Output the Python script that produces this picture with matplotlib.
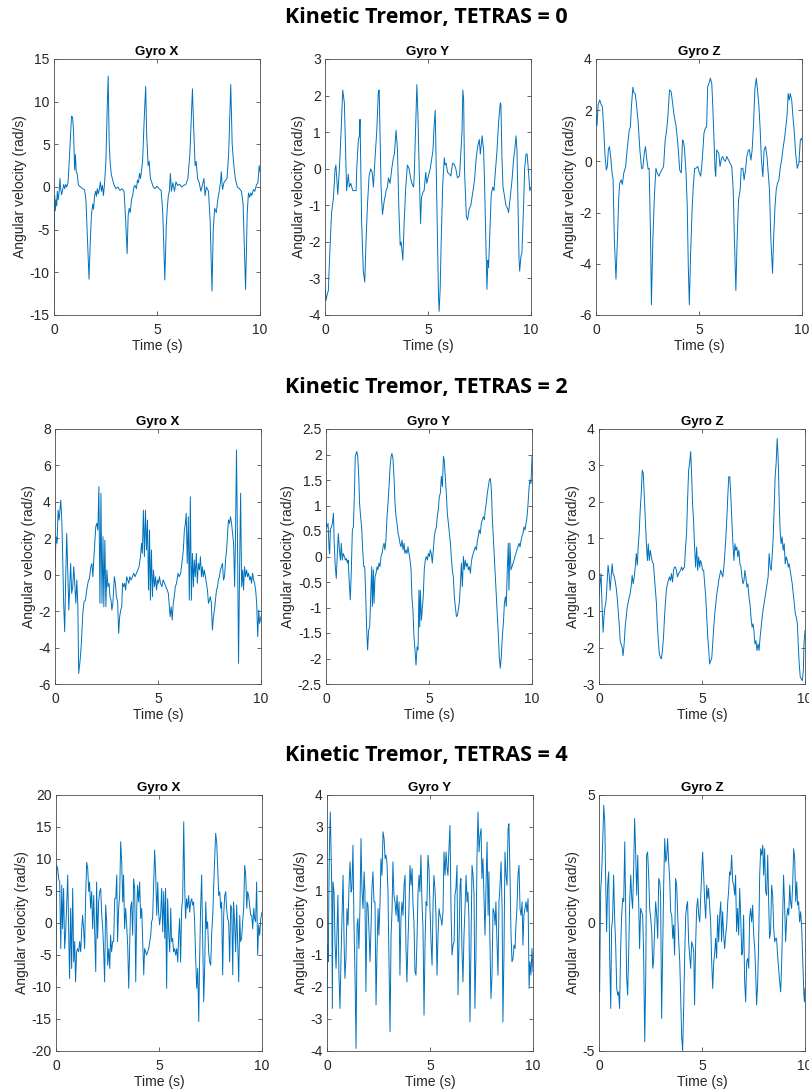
import matplotlib
matplotlib.use("Agg")
import matplotlib.pyplot as plt
from matplotlib.ticker import FuncFormatter

# Gyroscope traces: (time in s, angular velocity in rad/s)

# TETRAS = 0
t0_gyro_x = [(0.00, -14.6), (0.03, -1.0), (0.06, -2.8), (0.10, -1.5), (0.13, -2.2), (0.16, -0.5), (0.20, -1.5),
             (0.24, -0.8), (0.29, 1.0), (0.32, -0.2), (0.37, -0.9), (0.42, -0.3), (0.47, 0.3), (0.52, -0.2),
             (0.57, 0.3), (0.62, 0.0), (0.68, 0.5), (0.74, 3.0), (0.80, 6.0), (0.85, 8.3), (0.90, 8.2),
             (0.95, 6.5), (1.00, 2.0), (1.04, 3.8), (1.08, 1.8), (1.13, 1.5), (1.18, 0.3), (1.23, 0.1),
             (1.30, 0.0), (1.38, -0.2), (1.48, -0.3), (1.55, -1.5), (1.62, -6.0), (1.70, -10.8), (1.76, -6.5),
             (1.82, -3.2), (1.88, -2.0), (1.92, -2.6), (1.97, -1.0), (2.02, -0.5), (2.06, -1.1), (2.10, -0.2),
             (2.15, -0.8), (2.20, -0.3), (2.25, 0.6), (2.30, -0.5), (2.35, 0.2), (2.40, -1.0), (2.45, 0.3),
             (2.52, 3.0), (2.58, 9.0), (2.63, 13.0), (2.68, 5.0), (2.73, 2.8), (2.78, 1.5), (2.85, 0.8),
             (2.92, 0.2), (3.00, -0.2), (3.10, 0.0), (3.20, -0.4), (3.30, -0.2), (3.40, -0.5), (3.47, -3.5),
             (3.55, -7.8), (3.60, -3.3), (3.65, -2.5), (3.70, -3.0), (3.76, -1.5), (3.82, -1.0), (3.88, 0.0),
             (3.93, 0.2), (4.00, -0.2), (4.05, 0.8), (4.10, 0.5), (4.15, 1.6), (4.20, 1.0), (4.30, 3.0),
             (4.38, 8.0), (4.45, 11.8), (4.50, 6.0), (4.57, 2.5), (4.62, 3.0), (4.68, 1.0), (4.75, 0.5),
             (4.82, 0.0), (4.90, -0.2), (5.00, 0.1), (5.10, -0.2), (5.20, -0.4), (5.28, -3.0), (5.38, -10.9),
             (5.45, -4.5), (5.50, -2.5), (5.55, -1.0), (5.60, -0.5), (5.65, 1.6), (5.70, -0.5), (5.77, 0.5),
             (5.85, -0.5), (5.92, 0.6), (6.00, 0.2), (6.10, 0.3), (6.20, 0.0), (6.30, 0.2), (6.40, 0.3),
             (6.50, 1.0), (6.60, 4.0), (6.72, 11.5), (6.78, 7.0), (6.85, 2.5), (6.90, 3.0), (6.97, 1.0),
             (7.05, 0.5), (7.13, -0.5), (7.20, 0.2), (7.28, 1.0), (7.33, -1.0), (7.40, 0.0), (7.50, -0.5),
             (7.58, -4.0), (7.67, -12.2), (7.73, -5.0), (7.80, -2.5), (7.88, -3.0), (7.95, -1.5), (8.02, -0.5),
             (8.08, 0.5), (8.12, 1.8), (8.18, -0.3), (8.25, 0.5), (8.33, 0.8), (8.40, 1.0), (8.48, 4.0),
             (8.58, 12.0), (8.65, 5.0), (8.72, 2.8), (8.80, 1.0), (8.90, 0.0), (9.00, -0.2), (9.10, -0.5),
             (9.18, -2.0), (9.30, -12.0), (9.38, -3.0), (9.44, -0.7), (9.50, -1.2), (9.55, -0.7), (9.60, -1.0),
             (9.68, -0.3), (9.75, -0.5), (9.82, 0.2), (9.90, 0.5), (9.96, 2.5), (10.00, 1.8)]

t0_gyro_y = [(0.00, -3.2), (0.05, -3.6), (0.12, -3.4), (0.16, -3.35), (0.24, -2.2), (0.32, -1.2), (0.41, -0.8),
             (0.49, 0.0), (0.53, 0.1), (0.62, -0.7), (0.70, 0.0), (0.78, 1.0), (0.86, 2.15), (0.94, 1.8),
             (1.05, -0.6), (1.13, -0.15), (1.18, -0.5), (1.25, -0.4), (1.35, -0.6), (1.51, -0.6), (1.54, 0.0),
             (1.62, 0.8), (1.67, 0.9), (1.70, 1.35), (1.78, -1.5), (1.86, -2.8), (1.93, -3.1), (1.99, -2.0),
             (2.06, -1.0), (2.14, -0.2), (2.22, 0.0), (2.29, -0.1), (2.35, -0.5), (2.43, 0.3), (2.51, 1.0),
             (2.59, 2.1), (2.63, 2.15), (2.67, 1.0), (2.72, -0.5), (2.79, -1.25), (2.87, -0.9), (2.97, -0.6),
             (3.03, -0.5), (3.08, -0.25), (3.16, -0.4), (3.24, 0.0), (3.32, 0.3), (3.37, 0.4), (3.45, 1.05),
             (3.52, 0.5), (3.58, -1.0), (3.65, -2.1), (3.70, -2.0), (3.78, -2.5), (3.84, -1.5), (3.92, -0.5),
             (4.00, 0.1), (4.08, 0.0), (4.17, -0.3), (4.25, -0.45), (4.30, -0.5), (4.33, -0.2), (4.36, 0.4),
             (4.41, 1.5), (4.46, 2.3), (4.51, 1.5), (4.57, 0.0), (4.64, -1.5), (4.68, -0.8), (4.75, -0.65),
             (4.81, -0.6), (4.86, -0.3), (4.89, -0.1), (4.94, -0.4), (5.02, -0.2), (5.11, 0.0), (5.19, 0.3),
             (5.24, 0.5), (5.30, 1.2), (5.35, 1.6), (5.40, 0.0), (5.45, -1.5), (5.51, -3.5), (5.54, -3.9),
             (5.59, -3.3), (5.64, -2.0), (5.71, -0.5), (5.79, 0.3), (5.83, 0.1), (5.88, 0.15), (5.95, -0.1),
             (6.05, -0.15), (6.11, -0.2), (6.19, 0.15), (6.27, 0.12), (6.35, 0.0), (6.43, -0.25), (6.53, -0.2),
             (6.60, 0.5), (6.65, 1.0), (6.69, 2.15), (6.73, 1.9), (6.77, 0.0), (6.86, -1.3), (6.92, -1.4),
             (7.00, -1.1), (7.08, -1.0), (7.16, -0.7), (7.21, -0.5), (7.26, -0.3), (7.34, 0.3), (7.41, 0.6),
             (7.49, 0.8), (7.54, 0.4), (7.63, 0.9), (7.70, 0.5), (7.75, -0.5), (7.81, -2.0), (7.86, -3.3),
             (7.91, -2.5), (7.94, -2.7), (8.02, -1.5), (8.07, -0.7), (8.14, -0.5), (8.20, -0.6), (8.27, -0.1),
             (8.35, 0.5), (8.43, 1.3), (8.51, 1.8), (8.54, 1.75), (8.59, 0.3), (8.64, -0.5), (8.70, -0.7),
             (8.78, -1.0), (8.87, -1.1), (8.91, -1.2), (8.99, -0.8), (9.08, -0.3), (9.16, 0.3), (9.21, 0.5),
             (9.27, 0.9), (9.32, 0.5), (9.37, -1.0), (9.42, -2.5), (9.45, -2.8), (9.51, -2.4), (9.56, -2.3),
             (9.64, -1.0), (9.69, 0.0), (9.76, 0.4), (9.81, 0.4), (9.87, 0.0), (9.94, -0.6), (10.00, -0.5)]

t0_gyro_z = [(0.00, 1.75), (0.05, 1.4), (0.10, 2.2), (0.18, 2.4), (0.26, 2.2), (0.31, 2.15), (0.37, 1.35),
             (0.44, 0.2), (0.50, -0.33), (0.55, -0.2), (0.60, 0.45), (0.65, 0.58), (0.71, 0.2), (0.78, -0.45),
             (0.83, -0.7), (0.89, -3.05), (0.97, -4.6), (1.04, -3.05), (1.10, -1.5), (1.15, -0.85), (1.22, -0.72),
             (1.28, -0.9), (1.35, -0.45), (1.44, -0.2), (1.51, 0.45), (1.61, 1.2), (1.67, 1.35), (1.72, 2.15),
             (1.79, 2.9), (1.83, 2.7), (1.90, 2.65), (1.96, 2.27), (2.05, 1.5), (2.13, 0.45), (2.21, -0.27),
             (2.27, -0.27), (2.34, 0.3), (2.40, 0.58), (2.47, 0.05), (2.53, -0.3), (2.58, -0.27), (2.65, -3.05),
             (2.69, -5.6), (2.76, -3.05), (2.84, -1.25), (2.91, -0.27), (2.97, -0.45), (3.05, -0.58), (3.12, -0.45),
             (3.20, -0.33), (3.28, -0.2), (3.36, 0.84), (3.43, 1.23), (3.49, 1.75), (3.57, 2.8), (3.65, 2.72),
             (3.72, 2.27), (3.80, 1.75), (3.88, 1.42), (3.94, 0.97), (4.01, 0.32), (4.06, -0.33), (4.14, -0.45),
             (4.20, 0.84), (4.25, 0.78), (4.30, 0.45), (4.37, -0.45), (4.43, -1.75), (4.48, -4.1), (4.53, -5.6),
             (4.59, -3.7), (4.66, -2.0), (4.72, -0.98), (4.79, -0.27), (4.85, -0.27), (4.94, -0.2), (5.02, -0.45),
             (5.08, -0.58), (5.13, -0.2), (5.19, 0.45), (5.24, 1.1), (5.31, 1.3), (5.37, 1.35), (5.42, 2.92),
             (5.49, 3.05), (5.55, 3.25), (5.62, 3.05), (5.67, 2.15), (5.73, 0.84), (5.78, -0.33), (5.81, -0.58),
             (5.86, 0.45), (5.91, 0.38), (5.96, 0.32), (6.02, -0.2), (6.09, 0.12), (6.15, 0.19), (6.22, 0.06),
             (6.28, 0.0), (6.35, 0.19), (6.43, 0.06), (6.51, -0.07), (6.59, -0.2), (6.66, -1.1), (6.72, -3.05),
             (6.79, -5.05), (6.85, -3.05), (6.92, -1.5), (7.00, -1.1), (7.05, -0.27), (7.13, -0.27), (7.19, -0.72),
             (7.26, -0.33), (7.32, 0.19), (7.40, 0.45), (7.45, 0.45), (7.52, 0.05), (7.58, 0.45), (7.65, 1.49),
             (7.71, 2.8), (7.78, 3.25), (7.84, 2.8), (7.91, 2.14), (7.97, 1.23), (8.03, 0.06), (8.10, -0.6),
             (8.16, 0.45), (8.23, 0.58), (8.30, 0.19), (8.36, -0.45), (8.42, -1.1), (8.49, -3.05), (8.57, -4.37),
             (8.62, -3.05), (8.69, -1.75), (8.75, -1.1), (8.81, -0.85), (8.88, -0.72), (8.94, -0.27), (9.01, 0.06),
             (9.07, 0.45), (9.14, 0.84), (9.20, 1.23), (9.27, 1.75), (9.33, 2.65), (9.38, 2.4), (9.43, 2.65),
             (9.50, 2.4), (9.56, 1.75), (9.63, 1.1), (9.69, 0.32), (9.77, -0.27), (9.85, -0.07), (9.92, 0.84),
             (9.97, 0.9), (10.00, 0.84)]

# TETRAS = 2
t2_gyro_x = [(0.00, 0.44), (0.05, 2.09), (0.10, 1.72), (0.15, 3.55), (0.20, 3.0), (0.28, 4.1), (0.33, 3.0),
             (0.37, 1.17), (0.42, -1.57), (0.47, -3.13), (0.52, -0.11), (0.57, 2.27), (0.62, 0.26), (0.67, -1.94),
             (0.72, -0.47), (0.76, 0.62), (0.81, -1.02), (0.86, -0.66), (0.91, 0.44), (0.96, -0.47), (1.01, -1.57),
             (1.06, -0.29), (1.11, -1.76), (1.15, -5.42), (1.22, -4.69), (1.28, -3.77), (1.35, -2.12), (1.41, -1.48),
             (1.48, -1.39), (1.54, -0.84), (1.61, -0.38), (1.67, -0.2), (1.74, 0.44), (1.79, 0.62), (1.84, -0.11),
             (1.89, 0.99), (1.93, 1.72), (1.98, 2.64), (2.03, 2.82), (2.08, 2.45), (2.13, 4.83), (2.18, -1.57),
             (2.23, 4.47), (2.28, -1.57), (2.33, 2.09), (2.37, -1.76), (2.42, 1.9), (2.47, -1.76), (2.52, 0.26),
             (2.57, -0.66), (2.62, -0.47), (2.67, -1.21), (2.72, -1.39), (2.76, -1.94), (2.81, -1.57), (2.88, -0.11),
             (2.93, -0.47), (2.98, -1.21), (3.04, -1.48), (3.09, -3.22), (3.14, -2.3), (3.19, -1.94), (3.24, -1.76),
             (3.28, -0.47), (3.33, -0.66), (3.38, -0.47), (3.43, -0.84), (3.48, -0.11), (3.53, -0.29), (3.58, -0.47),
             (3.63, -0.11), (3.69, -0.29), (3.76, -0.11), (3.82, 0.08), (3.89, -0.11), (3.95, 0.08), (4.02, 0.26),
             (4.08, 0.44), (4.15, 0.99), (4.20, 1.72), (4.24, 1.17), (4.29, 3.55), (4.34, 0.99), (4.39, 3.55),
             (4.44, 1.36), (4.49, 3.0), (4.54, -0.84), (4.59, 2.45), (4.63, -1.4), (4.68, 1.36), (4.73, -1.21),
             (4.78, 0.26), (4.83, -0.66), (4.88, -0.11), (4.93, -0.84), (4.98, -0.29), (5.02, -0.47), (5.07, -0.11),
             (5.12, -0.47), (5.19, -0.66), (5.25, -0.29), (5.32, -0.47), (5.38, -0.66), (5.45, -0.84), (5.50, -1.02),
             (5.54, -1.57), (5.59, -2.3), (5.64, -1.76), (5.69, -2.49), (5.74, -1.57), (5.79, -1.21), (5.84, -0.66),
             (5.90, -0.47), (5.97, 0.08), (6.03, -0.11), (6.10, 0.08), (6.16, 0.62), (6.23, 1.36), (6.28, 2.45),
             (6.33, 2.82), (6.37, 3.37), (6.42, 0.62), (6.47, 3.18), (6.52, -1.4), (6.57, 4.28), (6.62, -1.4),
             (6.67, 1.17), (6.72, -0.66), (6.76, 0.81), (6.81, -0.11), (6.86, 1.17), (6.91, -0.47), (6.96, 0.62),
             (7.01, 0.26), (7.06, 0.99), (7.11, -0.11), (7.15, 0.44), (7.20, -0.11), (7.25, 0.26), (7.30, -0.11),
             (7.35, -0.47), (7.40, -0.84), (7.45, -1.57), (7.50, -1.39), (7.54, -1.21), (7.59, -1.57), (7.64, -3.04),
             (7.69, -2.3), (7.74, -1.94), (7.79, -1.4), (7.84, -0.84), (7.89, -0.66), (7.93, -0.29), (7.98, -0.11),
             (8.03, 0.26), (8.08, 0.44), (8.13, 0.62), (8.18, -0.29), (8.23, -0.11), (8.28, 0.81), (8.33, 1.36),
             (8.37, 2.09), (8.42, 3.0), (8.47, 2.82), (8.52, 3.18), (8.57, 2.82), (8.62, 2.27), (8.67, 1.72),
             (8.72, -0.66), (8.76, 1.9), (8.81, 6.85), (8.86, 1.72), (8.91, -4.87), (8.96, 0.26), (9.01, 4.47),
             (9.06, -0.66), (9.11, 0.26), (9.15, -0.84), (9.20, 0.44), (9.25, -0.11), (9.30, 0.26), (9.35, -0.11),
             (9.40, 0.08), (9.45, -0.29), (9.50, -0.11), (9.54, -0.47), (9.59, 0.08), (9.64, -0.29), (9.69, -0.47),
             (9.74, -0.84), (9.79, -1.57), (9.84, -3.4), (9.89, -1.94), (9.93, -2.67), (10.00, -2.3)]

t2_gyro_y = [(0.00, 0.65), (0.05, 0.58), (0.10, 0.65), (0.15, 0.13), (0.18, 0.06), (0.21, 0.52), (0.26, 0.58),
             (0.31, 0.65), (0.36, 0.85), (0.40, 0.26), (0.45, -0.2), (0.50, -0.43), (0.55, 0.06), (0.60, 0.45),
             (0.65, 0.13), (0.70, -0.07), (0.74, 0.26), (0.79, -0.07), (0.84, 0.06), (0.89, 0.0), (0.94, -0.07),
             (0.99, -0.04), (1.04, -0.13), (1.08, -0.07), (1.13, -0.53), (1.18, -0.85), (1.23, -0.26), (1.28, 0.52),
             (1.33, 0.58), (1.38, 1.24), (1.42, 1.96), (1.49, 2.06), (1.54, 1.96), (1.59, 1.57), (1.63, 1.04),
             (1.68, 0.78), (1.73, 0.58), (1.78, 0.13), (1.83, -0.2), (1.88, -0.2), (1.93, -0.79), (1.97, -1.38),
             (2.02, -1.83), (2.07, -1.44), (2.12, -1.38), (2.17, -0.79), (2.22, -0.2), (2.25, -0.98), (2.30, -0.26),
             (2.33, -0.92), (2.38, -0.4), (2.43, -0.33), (2.48, -0.2), (2.52, -0.26), (2.57, -0.13), (2.62, -0.2),
             (2.67, 0.0), (2.72, 0.06), (2.77, 0.19), (2.82, 0.26), (2.86, 0.13), (2.91, 0.32), (2.96, 0.78),
             (3.01, 1.04), (3.06, 1.37), (3.11, 1.76), (3.16, 1.96), (3.20, 2.02), (3.25, 1.92), (3.30, 1.57),
             (3.35, 1.04), (3.40, 0.78), (3.45, 0.65), (3.50, 0.45), (3.54, 0.39), (3.59, 0.26), (3.64, 0.19),
             (3.69, 0.32), (3.74, 0.13), (3.79, 0.26), (3.83, 0.06), (3.88, 0.13), (3.93, 0.06), (3.98, 0.19),
             (4.03, 0.06), (4.08, -0.07), (4.13, -0.26), (4.17, -0.79), (4.22, -1.05), (4.27, -1.57), (4.32, -1.83),
             (4.37, -2.13), (4.42, -1.77), (4.47, -1.83), (4.51, -0.66), (4.55, -1.38), (4.58, -0.66), (4.63, -1.25),
             (4.68, -0.98), (4.72, -0.79), (4.77, -0.26), (4.82, -0.07), (4.87, 0.0), (4.92, -0.07), (4.97, 0.06),
             (5.02, 0.0), (5.06, 0.13), (5.11, 0.06), (5.16, -0.13), (5.21, 0.13), (5.26, 0.39), (5.31, 0.52),
             (5.36, 0.58), (5.40, 0.78), (5.45, 0.91), (5.50, 1.17), (5.55, 1.24), (5.60, 1.57), (5.65, 1.37),
             (5.70, 1.96), (5.74, 1.89), (5.79, 1.57), (5.84, 1.24), (5.89, 0.85), (5.94, 0.65), (5.99, 0.45),
             (6.04, 0.26), (6.08, 0.0), (6.13, -0.26), (6.18, -0.4), (6.23, -0.79), (6.28, -0.98), (6.33, -1.18),
             (6.38, -1.15), (6.42, -1.05), (6.47, -0.92), (6.52, -0.59), (6.57, -0.13), (6.62, -0.59), (6.67, 0.0),
             (6.71, -0.26), (6.76, -0.07), (6.81, -0.2), (6.86, -0.13), (6.91, -0.26), (6.96, -0.2), (7.01, -0.33),
             (7.05, -0.13), (7.10, 0.0), (7.15, 0.06), (7.20, 0.13), (7.25, 0.19), (7.30, 0.13), (7.35, 0.32),
             (7.39, 0.39), (7.44, 0.52), (7.49, 0.45), (7.54, 0.65), (7.59, 0.72), (7.64, 0.78), (7.69, 0.72),
             (7.73, 0.91), (7.78, 1.04), (7.83, 1.24), (7.88, 1.37), (7.93, 1.5), (7.98, 1.53), (8.03, 1.3),
             (8.07, 0.78), (8.12, 0.39), (8.17, 0.0), (8.22, -0.4), (8.27, -0.79), (8.32, -1.18), (8.37, -1.57),
             (8.41, -1.96), (8.46, -2.19), (8.51, -1.96), (8.56, -1.57), (8.61, -1.31), (8.66, -0.92), (8.71, -0.79),
             (8.75, -0.98), (8.80, -0.26), (8.85, 0.26), (8.88, -0.66), (8.93, 0.26), (8.98, -0.26), (9.03, -0.2),
             (9.08, -0.13), (9.13, -0.07), (9.17, 0.0), (9.22, 0.06), (9.27, 0.13), (9.32, 0.19), (9.37, 0.26),
             (9.42, 0.19), (9.47, 0.32), (9.51, 0.39), (9.56, 0.45), (9.61, 0.58), (9.66, 0.52), (9.71, 0.65),
             (9.76, 0.78), (9.81, 1.04), (9.86, 1.37), (9.90, 1.5), (9.95, 1.43), (10.00, 1.96)]

t2_gyro_z = [(0.00, -0.57), (0.05, -0.25), (0.10, 0.03), (0.15, -0.89), (0.20, -1.58), (0.24, -1.17), (0.29, -0.89),
             (0.34, -0.75), (0.39, -0.25), (0.44, 0.26), (0.49, 0.03), (0.54, -0.43), (0.59, -0.06), (0.64, 0.3),
             (0.68, 0.03), (0.73, -0.02), (0.78, -0.16), (0.83, -0.34), (0.88, -0.61), (0.93, -0.98), (0.98, -1.35),
             (1.03, -1.81), (1.07, -1.9), (1.12, -1.99), (1.17, -2.22), (1.22, -1.9), (1.27, -1.44), (1.32, -1.17),
             (1.37, -0.89), (1.42, -0.75), (1.47, -0.61), (1.51, -0.52), (1.56, -0.34), (1.61, -0.02), (1.66, -0.25),
             (1.71, -0.06), (1.76, 0.21), (1.81, 0.58), (1.86, 0.26), (1.91, 0.85), (1.95, 1.13), (2.00, 1.77),
             (2.05, 2.23), (2.10, 2.87), (2.15, 2.78), (2.20, 2.14), (2.25, 1.5), (2.30, 0.85), (2.35, 0.39),
             (2.39, 0.85), (2.44, 0.39), (2.49, 0.67), (2.54, 0.49), (2.59, 0.35), (2.64, 0.3), (2.69, -0.06),
             (2.74, -0.43), (2.79, -0.8), (2.83, -1.35), (2.88, -1.81), (2.93, -2.17), (2.98, -2.27), (3.03, -2.31),
             (3.08, -2.08), (3.13, -1.72), (3.18, -1.17), (3.22, -0.8), (3.27, -0.43), (3.32, -0.25), (3.37, -0.16),
             (3.42, -0.06), (3.47, -0.16), (3.52, 0.03), (3.57, -0.2), (3.62, 0.12), (3.66, 0.21), (3.71, 0.21),
             (3.76, 0.12), (3.81, -0.06), (3.86, 0.03), (3.91, 0.07), (3.96, 0.12), (4.01, 0.21), (4.06, 0.12),
             (4.10, 0.17), (4.15, 0.21), (4.20, 0.76), (4.25, 1.13), (4.30, 2.05), (4.35, 2.87), (4.40, 3.06),
             (4.45, 3.38), (4.50, 2.69), (4.54, 1.95), (4.59, 1.5), (4.64, 0.76), (4.69, 0.21), (4.74, 0.76),
             (4.79, 0.12), (4.84, 0.49), (4.89, 0.21), (4.93, 0.39), (4.98, 0.3), (5.03, 0.12), (5.08, 0.12),
             (5.13, -0.25), (5.18, -0.61), (5.23, -1.17), (5.28, -1.72), (5.33, -2.08), (5.37, -2.45), (5.42, -2.36),
             (5.47, -2.31), (5.52, -1.9), (5.57, -1.44), (5.62, -1.07), (5.67, -0.8), (5.72, -0.52), (5.77, -0.34),
             (5.81, -0.16), (5.86, -0.02), (5.91, 0.12), (5.96, 0.03), (6.01, -0.06), (6.06, 0.21), (6.11, 0.58),
             (6.16, 1.04), (6.21, 1.59), (6.25, 2.14), (6.30, 2.69), (6.35, 2.69), (6.40, 2.14), (6.45, 1.5),
             (6.50, 0.85), (6.55, 0.39), (6.60, 0.85), (6.64, 0.67), (6.69, 0.76), (6.74, 0.49), (6.79, 0.67),
             (6.84, 0.3), (6.89, 0.21), (6.94, -0.06), (6.99, -0.25), (7.04, -0.16), (7.08, 0.12), (7.13, -0.06),
             (7.18, -0.34), (7.23, -0.25), (7.28, -0.61), (7.33, -0.8), (7.38, -1.17), (7.43, -1.44), (7.48, -1.35),
             (7.52, -1.53), (7.57, -1.9), (7.62, -1.81), (7.67, -2.08), (7.72, -1.9), (7.77, -2.08), (7.82, -1.72),
             (7.87, -1.44), (7.92, -1.17), (7.96, -0.98), (8.01, -0.8), (8.06, -0.61), (8.11, -0.43), (8.16, -0.25),
             (8.21, -0.06), (8.26, 0.58), (8.31, 0.21), (8.36, 0.12), (8.40, 0.49), (8.45, 0.94), (8.50, 1.77),
             (8.55, 2.69), (8.60, 3.06), (8.65, 3.74), (8.70, 3.15), (8.75, 1.95), (8.79, 1.22), (8.84, 0.85),
             (8.89, 1.04), (8.94, 0.67), (8.99, 0.85), (9.04, 0.3), (9.09, 0.49), (9.14, 0.39), (9.19, 0.21),
             (9.23, 0.3), (9.28, 0.12), (9.33, -0.06), (9.38, -0.25), (9.43, -0.52), (9.48, -0.8), (9.53, -1.07),
             (9.58, -1.17), (9.63, -1.35), (9.67, -1.9), (9.72, -2.45), (9.77, -2.82), (9.82, -2.86), (9.87, -2.91),
             (9.92, -2.63), (9.95, -1.9), (10.00, -1.53)]

# TETRAS = 4
t4_gyro_x = [(0.00, -8.1), (0.03, 9.0), (0.08, 8.5), (0.13, 6.9), (0.18, 6.4), (0.23, -4.0), (0.28, 5.9),
             (0.32, -0.9), (0.37, 5.4), (0.42, -4.0), (0.47, -1.4), (0.52, 3.3), (0.57, 7.5), (0.61, -0.3),
             (0.66, -8.7), (0.71, 2.3), (0.76, -7.1), (0.81, 5.4), (0.86, -6.1), (0.91, -2.9), (0.95, -9.2),
             (1.00, -4.5), (1.05, -4.0), (1.10, -4.5), (1.15, -2.9), (1.20, -4.5), (1.25, -0.9), (1.29, 1.2),
             (1.34, -0.9), (1.39, -4.0), (1.44, 4.3), (1.49, 9.5), (1.54, 8.5), (1.59, 4.9), (1.63, 6.4),
             (1.68, 2.3), (1.73, 4.9), (1.78, -0.9), (1.83, 4.3), (1.88, -1.9), (1.93, -7.6), (1.97, 6.4),
             (2.02, -2.4), (2.07, 3.3), (2.12, 4.9), (2.17, 5.4), (2.22, 1.2), (2.27, -0.9), (2.31, -4.0),
             (2.36, -9.2), (2.41, 2.8), (2.46, 0.2), (2.51, -6.6), (2.56, -4.0), (2.61, -7.1), (2.65, -1.9),
             (2.70, -4.5), (2.75, -2.9), (2.80, -2.9), (2.85, 3.8), (2.90, 3.8), (2.95, 7.5), (2.99, -2.9),
             (3.04, 2.3), (3.09, 4.3), (3.14, 12.7), (3.19, 9.5), (3.24, 3.3), (3.28, 7.5), (3.33, -0.9),
             (3.38, 2.3), (3.43, -0.3), (3.48, -3.5), (3.53, -10.2), (3.58, -2.9), (3.62, 2.3), (3.67, 3.3),
             (3.72, -1.9), (3.77, 6.9), (3.82, 5.4), (3.87, -9.2), (3.92, 2.3), (3.96, 5.9), (4.01, 3.3),
             (4.06, 6.4), (4.11, 0.7), (4.16, 2.3), (4.21, -2.9), (4.26, -8.1), (4.30, -4.0), (4.35, -4.5),
             (4.40, -5.0), (4.45, -4.5), (4.50, -4.0), (4.55, -2.9), (4.60, -1.9), (4.64, 0.2), (4.69, 0.7),
             (4.74, 5.9), (4.79, 11.4), (4.84, 7.5), (4.89, 1.2), (4.94, 6.4), (4.98, 1.7), (5.03, -0.3),
             (5.08, 1.2), (5.13, 5.4), (5.18, -1.4), (5.23, 4.9), (5.28, -2.4), (5.32, 5.4), (5.37, -10.2),
             (5.42, 3.8), (5.47, -1.4), (5.52, -4.5), (5.57, 2.3), (5.61, -2.9), (5.66, -2.4), (5.71, -4.5),
             (5.76, -4.0), (5.81, -5.0), (5.86, -4.0), (5.91, -6.1), (5.95, -2.4), (6.00, 0.7), (6.05, -6.1),
             (6.10, 2.3), (6.15, 3.8), (6.20, 15.8), (6.25, 5.4), (6.29, 0.7), (6.34, 3.8), (6.39, 2.3),
             (6.44, 4.3), (6.49, 1.7), (6.54, 3.3), (6.59, 3.8), (6.63, 2.8), (6.68, 3.3), (6.73, 0.2),
             (6.78, -5.5), (6.83, -10.2), (6.88, -7.1), (6.93, -15.4), (6.97, -6.1), (7.02, 2.3), (7.07, 7.5),
             (7.12, -2.9), (7.17, -12.3), (7.22, -6.6), (7.27, 3.3), (7.31, -0.9), (7.36, 0.2), (7.41, -4.5),
             (7.46, -6.1), (7.51, -6.6), (7.56, -1.4), (7.61, 1.2), (7.65, 5.4), (7.70, 9.5), (7.75, 14.0),
             (7.80, 12.7), (7.85, 8.5), (7.90, 4.3), (7.95, 4.9), (7.99, 2.3), (8.04, 3.3), (8.09, -8.1),
             (8.14, 1.2), (8.19, 4.3), (8.24, 4.9), (8.28, 2.3), (8.33, 0.7), (8.38, 0.2), (8.43, -6.1),
             (8.48, 2.8), (8.53, 2.3), (8.58, -8.1), (8.62, 3.3), (8.67, 0.2), (8.72, -4.5), (8.77, 2.8),
             (8.82, -2.9), (8.87, -9.2), (8.92, 1.2), (8.96, -2.9), (9.01, -2.4), (9.06, 0.2), (9.11, 2.3),
             (9.16, 9.0), (9.21, 7.5), (9.26, 2.3), (9.30, 4.9), (9.35, 4.3), (9.40, 2.8), (9.45, 1.2),
             (9.50, 1.2), (9.55, -0.9), (9.60, 2.3), (9.64, 0.7), (9.69, 0.2), (9.74, 6.4), (9.79, -5.0),
             (9.84, -0.3), (9.89, -1.9), (9.94, 0.7), (10.00, 1.7)]

t4_gyro_y = [(0.00, -2.88), (0.03, -0.69), (0.06, -1.21), (0.10, 1.49), (0.13, 2.74), (0.16, 3.47), (0.19, 2.53),
             (0.23, 1.18), (0.26, -2.67), (0.29, 1.28), (0.34, 0.97), (0.39, -0.59), (0.44, -1.42), (0.49, -0.17),
             (0.53, 0.87), (0.58, -1.63), (0.63, -2.67), (0.68, -1.11), (0.73, 0.24), (0.78, 1.49), (0.83, -0.59),
             (0.87, -1.73), (0.92, -1.11), (0.97, 0.45), (1.02, -0.07), (1.07, 1.18), (1.12, 1.91), (1.17, 0.97),
             (1.21, 1.08), (1.26, 2.43), (1.31, -0.07), (1.36, -1.63), (1.41, -3.92), (1.46, -0.07), (1.50, 0.14),
             (1.55, -0.8), (1.60, 0.45), (1.65, 2.64), (1.70, 0.97), (1.75, 0.45), (1.80, 1.6), (1.84, 0.97),
             (1.89, -2.15), (1.94, 0.66), (1.99, 0.55), (2.04, -0.28), (2.09, -1.21), (2.14, -0.07), (2.18, 1.08),
             (2.23, 1.6), (2.28, 0.66), (2.33, 0.66), (2.38, -2.56), (2.43, -0.8), (2.48, 0.45), (2.52, -0.38),
             (2.57, 0.55), (2.62, 2.01), (2.67, 1.49), (2.72, 2.85), (2.77, 2.64), (2.82, 2.01), (2.86, 2.12),
             (2.91, 1.91), (2.96, 0.97), (3.01, -1.21), (3.06, -3.4), (3.11, -0.38), (3.16, 0.45), (3.20, 1.91),
             (3.25, 0.87), (3.30, 0.66), (3.35, 0.24), (3.40, 0.87), (3.45, 0.04), (3.50, 0.66), (3.54, -1.63),
             (3.59, 0.14), (3.64, 0.66), (3.69, 0.24), (3.74, 1.18), (3.79, 1.49), (3.83, -0.69), (3.88, -1.84),
             (3.93, -0.59), (3.98, 0.45), (4.03, 1.8), (4.08, 1.18), (4.13, 1.7), (4.17, 0.66), (4.22, 0.04),
             (4.27, -1.52), (4.32, -1.63), (4.37, -0.48), (4.42, 0.97), (4.47, 1.49), (4.51, 0.97), (4.56, 2.12),
             (4.61, 0.66), (4.66, -0.17), (4.71, -2.88), (4.76, -0.59), (4.81, 0.66), (4.85, 0.55), (4.90, 2.12),
             (4.95, 1.7), (5.00, 0.45), (5.05, -0.59), (5.10, -1.32), (5.15, 0.66), (5.19, 1.49), (5.24, 1.08),
             (5.29, 0.24), (5.34, -1.63), (5.39, -0.38), (5.44, 0.45), (5.49, 0.24), (5.53, 0.14), (5.58, -0.07),
             (5.63, 0.35), (5.68, 2.22), (5.73, 1.49), (5.78, 2.22), (5.83, 1.7), (5.87, 1.49), (5.92, 2.33),
             (5.97, 3.05), (6.02, 0.45), (6.07, -1.0), (6.12, -0.69), (6.17, -0.59), (6.21, 0.87), (6.26, 1.08),
             (6.31, 1.8), (6.36, -2.25), (6.41, -0.59), (6.46, 1.18), (6.50, 1.39), (6.55, -0.8), (6.60, -1.84),
             (6.65, -0.38), (6.70, 0.45), (6.75, 1.49), (6.80, 0.66), (6.84, 0.97), (6.89, 0.14), (6.94, -3.09),
             (6.99, -0.59), (7.04, 1.8), (7.09, 1.49), (7.14, 0.87), (7.18, -2.67), (7.23, -1.0), (7.28, 2.01),
             (7.33, 3.47), (7.38, 2.22), (7.43, 2.74), (7.48, 2.95), (7.52, 1.39), (7.57, 2.01), (7.62, 0.87),
             (7.67, -0.38), (7.72, 1.18), (7.77, 2.53), (7.82, 0.24), (7.86, 1.6), (7.91, -0.59), (7.96, -2.36),
             (8.01, -1.63), (8.06, 0.45), (8.11, 0.35), (8.16, -0.07), (8.20, 0.66), (8.25, -0.59), (8.30, -1.63),
             (8.35, 0.66), (8.40, 1.18), (8.45, 1.91), (8.50, 0.45), (8.54, -3.09), (8.59, -1.0), (8.64, 2.22),
             (8.69, 1.49), (8.74, 1.18), (8.79, 2.95), (8.83, 3.1), (8.88, 1.6), (8.93, -0.28), (8.98, -1.21),
             (9.03, -1.11), (9.08, -0.69), (9.13, -0.8), (9.17, -0.07), (9.22, 0.45), (9.27, 1.49), (9.32, 1.8),
             (9.37, 0.45), (9.42, 0.24), (9.47, 0.66), (9.51, -0.69), (9.56, 0.24), (9.61, 0.45), (9.66, 0.66),
             (9.71, 0.35), (9.76, 0.76), (9.81, -2.04), (9.85, -1.21), (9.90, -1.63), (9.95, -0.8), (10.00, -1.52)]

t4_gyro_z = [(0.00, -0.6), (0.03, -2.7), (0.08, 1.22), (0.13, 2.0), (0.18, 3.17), (0.23, 4.6), (0.28, 3.95),
             (0.32, 1.87), (0.37, -0.34), (0.42, 1.48), (0.47, 2.0), (0.52, -1.38), (0.57, -3.34), (0.61, -0.21),
             (0.66, 0.18), (0.71, 1.87), (0.76, 0.18), (0.81, -0.86), (0.86, -2.56), (0.91, -2.82), (0.95, -2.69),
             (1.00, -3.34), (1.05, -1.0), (1.10, 0.31), (1.15, 0.96), (1.20, 0.83), (1.25, 3.17), (1.29, 0.96),
             (1.34, -2.04), (1.39, -2.82), (1.44, -1.13), (1.49, 0.83), (1.54, 1.87), (1.59, 0.96), (1.63, 0.57),
             (1.68, 2.0), (1.73, 4.08), (1.78, 2.77), (1.83, 1.09), (1.88, 2.65), (1.93, 0.57), (1.97, -1.0),
             (2.02, 0.57), (2.07, 0.44), (2.12, 0.31), (2.17, -1.38), (2.22, -4.64), (2.27, -2.04), (2.31, 2.65),
             (2.36, 2.77), (2.41, 1.87), (2.46, 0.57), (2.51, 0.18), (2.56, -0.34), (2.61, -1.77), (2.65, -1.51),
             (2.70, -0.21), (2.75, 0.83), (2.80, 0.31), (2.85, -0.6), (2.90, 1.74), (2.95, 1.61), (2.99, 1.09),
             (3.04, -3.73), (3.09, -1.0), (3.14, 1.48), (3.19, 3.3), (3.24, 2.39), (3.28, 2.52), (3.33, 3.3),
             (3.38, 2.39), (3.43, 1.74), (3.48, 0.43), (3.53, 0.31), (3.58, -0.6), (3.62, -0.08), (3.67, -1.25),
             (3.72, 1.74), (3.77, 1.48), (3.82, 0.31), (3.87, -0.73), (3.92, -1.51), (3.96, -2.69), (4.01, -4.38),
             (4.06, -5.0), (4.11, -3.34), (4.16, -1.25), (4.21, 0.31), (4.26, 0.7), (4.30, 0.83), (4.35, -0.73),
             (4.40, -1.25), (4.45, -1.77), (4.50, -0.73), (4.55, -0.86), (4.60, -1.12), (4.64, -3.2), (4.69, -0.86),
             (4.74, 0.57), (4.79, 0.96), (4.84, 0.31), (4.89, 0.04), (4.94, 1.09), (4.98, 1.87), (5.03, 2.77),
             (5.08, 1.87), (5.13, 0.83), (5.18, 0.18), (5.23, 1.48), (5.28, 0.96), (5.32, 1.35), (5.37, 0.7),
             (5.42, 0.04), (5.47, -1.51), (5.52, -2.56), (5.57, -1.51), (5.61, -1.25), (5.66, -0.6), (5.71, -1.38),
             (5.76, 0.31), (5.81, -0.73), (5.86, 0.31), (5.91, 0.83), (5.95, -0.73), (6.00, 0.44), (6.05, -0.47),
             (6.10, -1.0), (6.15, -0.47), (6.20, -0.08), (6.25, 0.83), (6.29, 1.22), (6.34, 2.0), (6.39, 1.87),
             (6.44, 2.65), (6.49, 1.61), (6.54, 1.48), (6.59, 1.09), (6.63, 1.87), (6.68, -0.34), (6.73, 0.57),
             (6.78, -0.47), (6.83, 1.35), (6.88, 0.18), (6.93, -1.25), (6.97, -1.12), (7.02, 0.31), (7.07, -2.3),
             (7.12, -3.08), (7.17, -1.51), (7.22, -1.38), (7.27, -1.77), (7.31, 0.18), (7.36, 0.57), (7.41, 0.04),
             (7.46, 0.7), (7.51, -0.47), (7.56, -1.0), (7.61, -2.04), (7.65, -3.2), (7.70, -2.43), (7.75, -0.73),
             (7.80, 1.87), (7.85, 2.9), (7.90, 2.65), (7.95, 3.04), (7.99, 1.87), (8.04, 2.9), (8.09, 1.22),
             (8.14, 1.09), (8.19, 2.65), (8.24, 0.7), (8.28, -0.6), (8.33, -0.34), (8.38, 1.48), (8.43, 1.09),
             (8.48, -0.21), (8.53, -0.73), (8.58, -0.6), (8.62, -0.6), (8.67, -1.25), (8.72, -1.77), (8.77, -2.3),
             (8.82, -2.69), (8.87, -1.51), (8.92, 0.31), (8.96, 1.87), (9.01, 0.7), (9.06, -0.73), (9.11, 0.18),
             (9.16, 0.57), (9.21, 0.31), (9.26, 1.48), (9.30, 0.83), (9.35, 0.57), (9.40, 1.48), (9.45, 2.9),
             (9.50, 2.52), (9.55, 0.83), (9.60, 1.61), (9.64, 0.7), (9.69, 0.83), (9.74, 0.04), (9.79, 0.44),
             (9.84, -0.21), (9.89, -1.51), (9.94, -2.69), (9.97, -3.08), (10.00, -2.56)]

row_titles = ["Kinetic Tremor, TETRAS = 0", "Kinetic Tremor, TETRAS = 2", "Kinetic Tremor, TETRAS = 4"]
panel_names = ["Gyro X", "Gyro Y", "Gyro Z"]
traces = [[t0_gyro_x, t0_gyro_y, t0_gyro_z],
          [t2_gyro_x, t2_gyro_y, t2_gyro_z],
          [t4_gyro_x, t4_gyro_y, t4_gyro_z]]
y_limits = [[(-15, 15), (-4, 3), (-6, 4)],
            [(-6, 8), (-2.5, 2.5), (-3, 4)],
            [(-20, 20), (-4, 4), (-5, 5)]]
y_steps = [[5, 1, 2], [2, 0.5, 1], [5, 1, 5]]

# layout in pixels of the 809 x 1090 canvas
W, H = 809, 1090
row_tops = [59, 429, 795]
row_bottoms = [315, 684, 1051]
col_lefts = [[54, 325, 596], [55, 326, 599], [56, 327, 599]]
panel_w = 206
title_y = [18, 388, 755]

plt.rcParams["font.family"] = ["Liberation Sans", "DejaVu Sans"]
plt.rcParams["axes.unicode_minus"] = False

line_color = "#0072BD"
frame_color = "#4d4d4d"
text_color = "#262626"

fig = plt.figure(figsize=(W / 100, H / 100), dpi=100)

for r in range(3):
    fig.text(0.527, 1 - title_y[r] / H, row_titles[r], ha="center", va="center",
             fontsize=15.5, fontweight="bold", family=["Open Sans", "DejaVu Sans"], color="black")
    for c in range(3):
        left = col_lefts[r][c]
        ax = fig.add_axes([left / W, 1 - row_bottoms[r] / H, panel_w / W,
                           (row_bottoms[r] - row_tops[r]) / H])
        pts = traces[r][c]
        ax.plot([p[0] for p in pts], [p[1] for p in pts], color=line_color, lw=0.7)

        lo, hi = y_limits[r][c]
        step = y_steps[r][c]
        ax.set_xlim(0, 10)
        ax.set_ylim(lo, hi)
        ax.set_xticks([0, 5, 10])
        n = int(round((hi - lo) / step))
        ax.set_yticks([lo + k * step for k in range(n + 1)])
        ax.yaxis.set_major_formatter(FuncFormatter(lambda v, p: f"{v:g}"))
        ax.xaxis.set_major_formatter(FuncFormatter(lambda v, p: f"{v:g}"))

        ax.tick_params(direction="in", length=3, width=0.6, colors=frame_color,
                       labelcolor=text_color, labelsize=10, top=True, right=True)
        ax.tick_params(axis="x", pad=6)
        ax.tick_params(axis="y", pad=3)
        for sp in ax.spines.values():
            sp.set_color(frame_color)
            sp.set_linewidth(0.6)

        ax.set_title(panel_names[c], fontsize=9.5, fontweight="bold", color="black", pad=3)
        ax.set_xlabel("Time (s)", fontsize=10, color=text_color, labelpad=1)
        ax.set_ylabel("Angular velocity (rad/s)", fontsize=10, color=text_color, labelpad=2)

fig.savefig("out.png", dpi=100)
